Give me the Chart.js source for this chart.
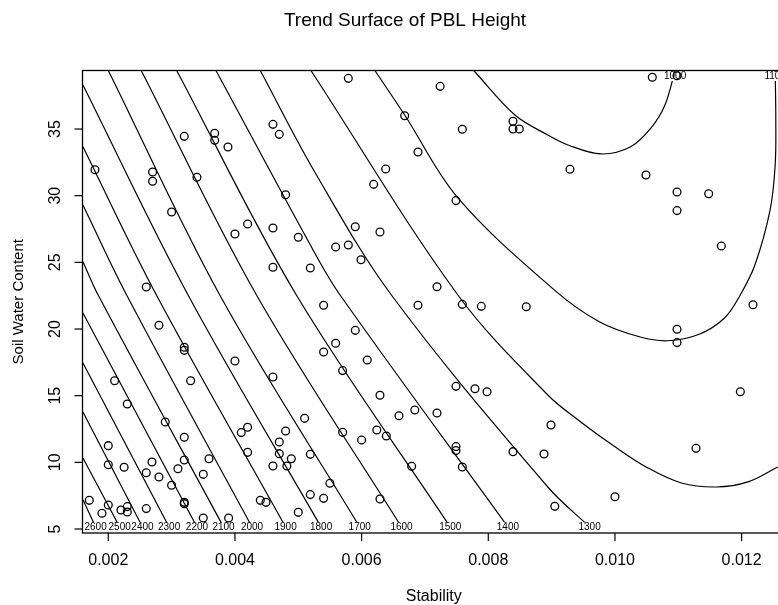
<!DOCTYPE html>
<html>
<head>
<meta charset="utf-8">
<script src="https://cdn.jsdelivr.net/npm/chart.js@4/dist/chart.umd.min.js"></script>
<style>
html, body { margin: 0; padding: 0; background: #fff; overflow: hidden; }
#wrap { width: 778px; height: 605px; overflow: hidden; }
canvas { display: block; }
</style>
</head>
<body>
<div id="wrap"><canvas id="chart" width="800" height="605"></canvas></div>
<script>
// observations
const stability = [
    0.00179, 0.0027, 0.0027, 0.0032, 0.00368, 0.00368, 0.00389, 0.0046, 0.0047, 0.0034,
    0.0030, 0.0048, 0.0042, 0.0040, 0.0046, 0.0050, 0.0046, 0.00519, 0.0026,
    0.00579, 0.00724, 0.00668, 0.00759, 0.00839, 0.00839, 0.00849, 0.00689, 0.00638, 0.00619,
    0.00749, 0.0059, 0.00629, 0.00559, 0.00579, 0.00599, 0.00719,
    0.01059, 0.01098, 0.00929, 0.01049, 0.01098, 0.01098, 0.01148, 0.01168,
    0.0028, 0.0032, 0.0032, 0.0040, 0.0021, 0.0033, 0.0046, 0.0023, 0.0029, 0.0051,
    0.0041, 0.0042, 0.0048, 0.0020, 0.0032, 0.0047, 0.0042, 0.0047, 0.00519, 0.00489,
    0.0020, 0.00225, 0.00269, 0.0032, 0.00359, 0.0026, 0.0028, 0.0031, 0.0035, 0.0046,
    0.00482, 0.0030, 0.0017, 0.0020, 0.0019, 0.0022, 0.0023, 0.0023, 0.0026, 0.0032,
    0.0032, 0.0035, 0.0039, 0.0044, 0.00449, 0.0050, 0.00519,
    0.0054, 0.00689, 0.00759, 0.00789, 0.0086, 0.0059, 0.00559, 0.0054, 0.00609, 0.0057,
    0.00629, 0.00749, 0.00779, 0.00798, 0.00659, 0.00684, 0.00719, 0.00899, 0.0057, 0.0060,
    0.00624, 0.00639, 0.00749, 0.00749, 0.00839, 0.00888, 0.00679, 0.00759, 0.0055, 0.0054,
    0.00629, 0.00905,
    0.01218, 0.01098, 0.01098, 0.01198, 0.01128, 0.0100
];
const soilWater = [
    31.95, 31.78, 31.08, 34.45, 34.68, 34.15, 33.65, 35.35, 34.6, 31.38,
    28.78, 30.07, 27.88, 27.13, 27.58, 26.88, 24.63, 24.58, 23.15,
    38.8, 38.2, 36.0, 34.98, 35.58, 35.0, 35.0, 33.28, 32.0, 30.85,
    29.63, 27.67, 27.28, 26.15, 26.3, 25.2, 23.17,
    38.88, 39.0, 31.98, 31.55, 30.28, 28.88, 30.15, 26.23,
    20.28, 18.63, 18.4, 17.6, 16.12, 16.12, 16.4, 14.38, 13.03, 13.3,
    12.23, 12.63, 12.35, 11.25, 11.88, 11.53, 10.75, 10.65, 10.6, 10.27,
    9.82, 9.63, 10.03, 10.18, 10.27, 9.22, 8.9, 9.52, 9.1, 9.73,
    9.73, 8.28, 7.15, 6.8, 6.18, 6.43, 6.68, 6.28, 6.53, 6.9,
    7.0, 5.83, 5.83, 7.15, 7.0, 6.25, 7.58,
    21.78, 21.78, 21.85, 21.7, 21.67, 19.9, 18.93, 18.28, 17.68, 16.88,
    15.03, 15.7, 15.52, 15.3, 13.5, 13.93, 13.7, 12.8, 12.25, 11.68,
    12.43, 11.98, 11.18, 10.88, 10.8, 10.63, 9.7, 9.65, 8.43, 7.3,
    7.25, 6.7,
    21.82, 19.98, 18.98, 15.3, 11.05, 7.42
];

// trend surface contours, [stability, soil water]
const c2600 = [[0.0016, 7.2], [0.0018, 5.15]];
const c2500 = [[0.0016, 10.33], [0.00218, 5.15]];
const c2400 = [[0.0016, 13.78], [0.00254, 5.15]];
const c2300 = [[0.0016, 17.45], [0.00296, 5.15]];
const c2200 = [[0.0016, 21.2], [0.0034, 5.15]];
const c2100 = [[0.0016, 25.05], [0.00184, 22.55], [0.00382, 5.15]];
const c2000 = [[0.0016, 29.3], [0.00229, 22.55], [0.00427, 5.15]];
const c1900 = [[0.0016, 33.67], [0.00276, 22.55], [0.0048, 5.15]];
const c1800 = [[0.0016, 38.3], [0.00326, 22.55], [0.00536, 5.15]];
const c1700 = [[0.002, 39.39], [0.00376, 22.55], [0.00597, 5.15]];
const c1600 = [[0.00252, 39.39], [0.00434, 22.55], [0.00663, 5.15]];
const c1500 = [[0.00308, 39.39], [0.00497, 22.55], [0.0074, 5.15]];
const c1400 = [[0.0037, 39.39], [0.00526, 25.7], [0.00566, 22.55], [0.00831, 5.15]];
const c1300 = [[0.0044, 39.39], [0.00526, 31.78], [0.00647, 22.55], [0.00894, 8.15], [0.0096, 5.15]];
const c1200 = [[0.0052, 39.39], [0.00752, 22.55], [0.00894, 15.05], [0.00946, 13.03], [0.0100, 11.17],
    [0.01052, 9.58], [0.01105, 8.45], [0.0116, 8.15], [0.0121, 8.53], [0.01257, 9.65]];
const c1100 = [[0.00621, 39.39], [0.00668, 36.05], [0.00752, 29.83], [0.00905, 22.9], [0.00976, 20.53],
    [0.0104, 19.4], [0.01084, 19.12], [0.01134, 19.63], [0.01173, 20.83], [0.01197, 22.48],
    [0.01221, 24.8], [0.01245, 28.93], [0.01253, 32.3], [0.01254, 35.68], [0.01253, 39.39]];
const c1000 = [[0.00777, 39.39], [0.00842, 36.05], [0.00894, 34.55], [0.00926, 33.8], [0.00978, 33.13],
    [0.01025, 33.67], [0.01057, 35.08], [0.01079, 36.8], [0.01095, 39.39]];

const contourLevels = [2600, 2500, 2400, 2300, 2200, 2100, 2000, 1900, 1800, 1700, 1600, 1500, 1400, 1300, 1200, 1100, 1000];
const contourLines = [c2600, c2500, c2400, c2300, c2200, c2100, c2000, c1900, c1800, c1700, c1600, c1500, c1400, c1300, c1200, c1100, c1000];
const labelledLevels = [2600, 2500, 2400, 2300, 2200, 2100, 2000, 1900, 1800, 1700, 1600, 1500, 1400, 1300, 1100, 1000];

const xTicks = [0.002, 0.004, 0.006, 0.008, 0.010, 0.012];
const yTicks = [5, 10, 15, 20, 25, 30, 35];

const FONT = '"Liberation Sans", Arial, Helvetica, sans-serif';

const rStyle = {
    id: 'rStyle',

    // contour labels go on after the lines, before the points
    afterDatasetDraw(chart, args) {
        if (args.index !== 1)
            return;
        const { ctx, chartArea: a } = chart;
        const x = chart.scales.x, y = chart.scales.y;
        ctx.save();
        ctx.font = '10px ' + FONT;
        ctx.textAlign = 'center';
        ctx.textBaseline = 'middle';
        // white breaks first so neighbouring labels don't hide each other
        const spots = [];
        contourLines.forEach((pts, i) => {
            const lvl = contourLevels[i];
            if (!labelledLevels.includes(lvl))
                return;
            const p = pts[pts.length - 1];
            const px = x.getPixelForValue(p[0]);
            const py = Math.min(Math.max(y.getPixelForValue(p[1]), a.top + 6), a.bottom - 6);
            const w = ctx.measureText(String(lvl)).width;
            ctx.fillStyle = '#fff';
            ctx.fillRect(px - w / 2, py - 4.5, w, 9);
            spots.push([String(lvl), px, py]);
        });
        ctx.fillStyle = '#000';
        spots.forEach(s => ctx.fillText(s[0], s[1], s[2]));
        ctx.restore();
    },

    afterDraw(chart) {
        const { ctx, chartArea: a } = chart;
        const x = chart.scales.x, y = chart.scales.y;
        ctx.save();
        ctx.strokeStyle = '#000';
        ctx.fillStyle = '#000';
        ctx.lineWidth = 1.3;
        ctx.strokeRect(a.left, a.top, a.right - a.left, a.bottom - a.top);

        ctx.lineWidth = 1.2;
        ctx.font = '16px ' + FONT;
        ctx.textAlign = 'center';
        ctx.textBaseline = 'middle';
        xTicks.forEach(v => {
            const px = x.getPixelForValue(v);
            ctx.beginPath();
            ctx.moveTo(px, a.bottom);
            ctx.lineTo(px, a.bottom + 8);
            ctx.stroke();
            ctx.fillText(v.toFixed(3), px, 561);
        });
        yTicks.forEach(v => {
            const py = y.getPixelForValue(v);
            ctx.beginPath();
            ctx.moveTo(a.left - 8, py);
            ctx.lineTo(a.left, py);
            ctx.stroke();
            ctx.save();
            ctx.translate(56, py);
            ctx.rotate(-Math.PI / 2);
            ctx.fillText(String(v), 0, 0);
            ctx.restore();
        });

        ctx.fillText('Stability', (a.left + a.right) / 2, 597);
        ctx.font = '15px ' + FONT;
        ctx.save();
        ctx.translate(19, (a.top + a.bottom) / 2);
        ctx.rotate(-Math.PI / 2);
        ctx.fillText('Soil Water Content', 0, 0);
        ctx.restore();

        ctx.font = '19px ' + FONT;
        ctx.fillText('Trend Surface of PBL Height', 405, 21);
        ctx.restore();
    }
};

const datasets = [{
    label: 'Observations',
    data: stability.map((v, i) => ({ x: v, y: soilWater[i] })),
    pointStyle: 'circle',
    pointRadius: 3.9,
    pointBorderWidth: 1.3,
    pointBorderColor: '#000',
    pointBackgroundColor: 'rgba(0,0,0,0)',
    showLine: false
}];

contourLines.forEach((pts, i) => {
    datasets.push({
        label: 'Contour ' + contourLevels[i],
        data: pts.map(p => ({ x: p[0], y: p[1] })),
        showLine: true,
        pointRadius: 0,
        borderColor: '#000',
        borderWidth: 1.2,
        tension: 0.35,
        fill: false
    });
});

new Chart(document.getElementById('chart'), {
    type: 'scatter',
    data: { datasets: datasets },
    options: {
        responsive: false,
        animation: false,
        devicePixelRatio: 1,
        layout: { padding: { top: 70.5, right: 15, bottom: 0, left: 0 } },
        elements: { line: { capBezierPoints: false } },
        plugins: {
            legend: { display: false },
            tooltip: { enabled: false },
            title: { display: false }
        },
        scales: {
            x: {
                type: 'linear',
                min: 0.001593,
                max: 0.012685,
                grid: { display: false },
                border: { display: false },
                ticks: { display: false },
                afterFit: s => { s.height = 72; }
            },
            y: {
                type: 'linear',
                min: 4.7,
                max: 39.39,
                grid: { display: false },
                border: { display: false },
                ticks: { display: false },
                afterFit: s => { s.width = 82.5; }
            }
        }
    },
    plugins: [rStyle]
});
</script>
</body>
</html>
